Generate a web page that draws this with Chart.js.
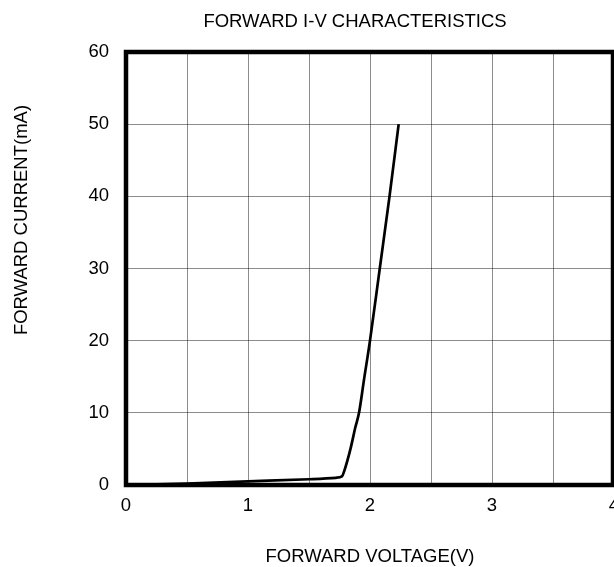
<!DOCTYPE html>
<html>
<head>
<meta charset="utf-8">
<script src="https://cdn.jsdelivr.net/npm/chart.js@4/dist/chart.umd.min.js"></script>
<style>
    html, body { margin: 0; padding: 0; background: #fff; }
    #wrap { width: 614px; height: 567px; }
</style>
</head>
<body>
<div id="wrap"><canvas id="chartForwardIV"></canvas></div>
<script>
// forward voltage (V) and forward current (mA)
const forwardVoltage = [0, 0.5, 1.0, 1.5, 1.72, 1.77, 1.79, 1.84, 1.88, 1.91, 1.95, 2.0, 2.08, 2.16, 2.235];
const forwardCurrent = [0, 0.2, 0.5, 0.8, 1.0, 1.2, 2.0, 5.0, 8.0, 10.0, 14.5, 20.0, 30.0, 40.0, 50.0];

const xTicks = [0, 1, 2, 3, 4];
const yTicks = [0, 10, 20, 30, 40, 50, 60];

const chartTitle = 'FORWARD I-V CHARACTERISTICS';
const yTitle = 'FORWARD CURRENT(mA)';
const xTitle = 'FORWARD VOLTAGE(V)';

const chartForwardIV = document.getElementById('chartForwardIV');
const fontFamily = '"Liberation Sans", Arial, sans-serif';
const labelFont = { family: fontFamily, size: 18.5 };

// heavy black frame round the plot area, plus the chart title and the y title
const frameBox = {
    id: 'frameBox',
    afterDatasetsDraw(chart) {
        const a = chart.chartArea;
        const ctx = chart.ctx;
        ctx.save();
        ctx.strokeStyle = '#000';
        ctx.lineWidth = 4.5;
        ctx.strokeRect(a.left, a.top, a.right - a.left - 1, a.bottom - a.top);
        ctx.restore();
    },
    afterDraw(chart) {
        const ctx = chart.ctx;
        ctx.save();
        ctx.fillStyle = '#000';
        ctx.font = '18.5px ' + fontFamily;
        ctx.textAlign = 'center';
        ctx.textBaseline = 'middle';
        ctx.fillText(chartTitle, 355, 22);
        ctx.translate(21.5, 220);
        ctx.rotate(-Math.PI / 2);
        ctx.fillText(yTitle, 0, 0);
        ctx.restore();
    }
};

new Chart(chartForwardIV, {
    type: 'scatter',
    plugins: [frameBox],
    data: {
        datasets: [{
            label: 'IF',
            data: forwardVoltage.map((v, i) => ({ x: v, y: forwardCurrent[i] })),
            showLine: true,
            borderColor: '#000',
            borderWidth: 2.7,
            pointRadius: 0,
            cubicInterpolationMode: 'monotone',
        }]
    },
    options: {
        responsive: true,
        maintainAspectRatio: false,
        animation: false,
        layout: { padding: { left: 0, right: 0, top: 52, bottom: 0 } },
        plugins: {
            legend: { display: false },
            tooltip: { enabled: false },
            title: { display: false }
        },
        scales: {
            x: {
                type: 'linear',
                min: xTicks[0],
                max: xTicks[xTicks.length - 1],
                grid: { color: 'rgba(0,0,0,0.45)', lineWidth: 1, drawTicks: false },
                border: { display: false },
                ticks: {
                    stepSize: 0.5,
                    color: '#000',
                    font: labelFont,
                    padding: 10,
                    maxRotation: 0,
                    callback: function(value) { return xTicks.includes(value) ? value : ''; }
                },
                title: {
                    display: true,
                    text: xTitle,
                    color: '#000',
                    font: labelFont,
                    padding: { top: 0, bottom: -1 },
                },
                afterFit: function(scale) {
                    scale.height = 82;
                    scale.paddingRight = 0;
                    scale.paddingLeft = 0;
                }
            },
            y: {
                type: 'linear',
                min: yTicks[0],
                max: yTicks[yTicks.length - 1],
                grid: { color: 'rgba(0,0,0,0.45)', lineWidth: 1, drawTicks: false },
                border: { display: false },
                ticks: {
                    stepSize: 10,
                    color: '#000',
                    font: labelFont,
                    padding: 17,
                },
                afterFit: function(scale) {
                    scale.width = 126;
                    scale.paddingTop = 0;
                }
            }
        }
    }
});
</script>
</body>
</html>
